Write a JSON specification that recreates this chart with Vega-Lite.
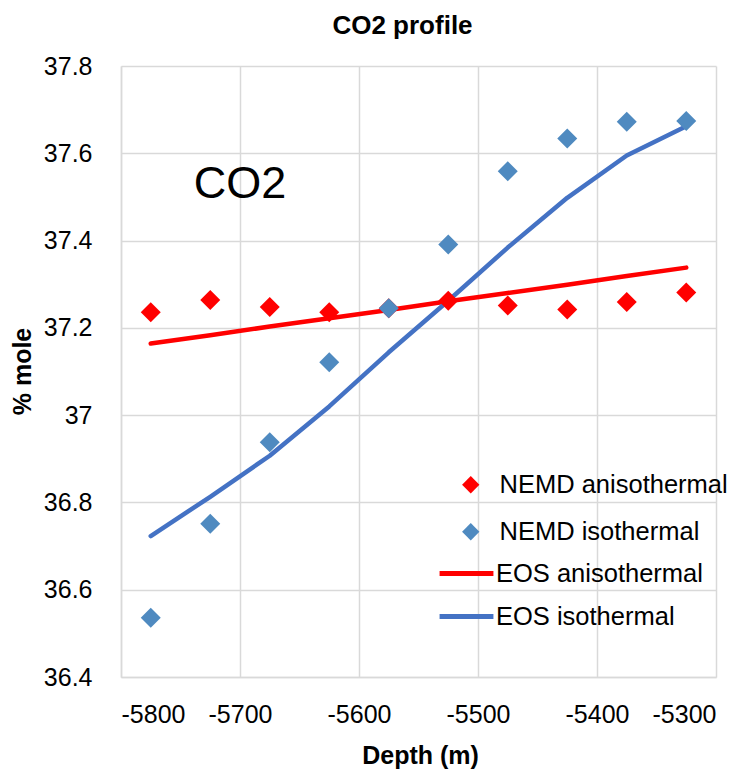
{
  "$schema": "https://vega.github.io/schema/vega-lite/v6.json",
  "width": 595,
  "height": 611,
  "autosize": {"type": "none"},
  "padding": {"left": 121, "top": 66, "right": 39, "bottom": 96},
  "background": "white",
  "title": {"text": "CO2 profile", "font": "Liberation Sans", "fontSize": 26, "fontWeight": "bold", "color": "black", "anchor": "middle", "offset": 15, "dx": -16},
  "config": {
    "view": {"stroke": null},
    "title": {"font": "Liberation Sans", "fontSize": 26, "fontWeight": "bold", "color": "black"},
    "axis": {
      "grid": true, "gridColor": "#d9d9d9", "gridWidth": 1.5,
      "domainColor": "#d9d9d9", "domainWidth": 1.5, "ticks": false,
      "labelFont": "Liberation Sans", "labelFontSize": 25, "labelColor": "black",
      "titleFont": "Liberation Sans", "titleFontSize": 25, "titleFontWeight": "bold", "titleColor": "black"
    }
  },
  "datasets": {
    "pts": [
      {"depth": -5775, "value": 37.236, "series": "NEMD anisothermal"},
      {"depth": -5725, "value": 37.264, "series": "NEMD anisothermal"},
      {"depth": -5675, "value": 37.248, "series": "NEMD anisothermal"},
      {"depth": -5625, "value": 37.236, "series": "NEMD anisothermal"},
      {"depth": -5575, "value": 37.245, "series": "NEMD anisothermal"},
      {"depth": -5525, "value": 37.262, "series": "NEMD anisothermal"},
      {"depth": -5475, "value": 37.251, "series": "NEMD anisothermal"},
      {"depth": -5425, "value": 37.242, "series": "NEMD anisothermal"},
      {"depth": -5375, "value": 37.259, "series": "NEMD anisothermal"},
      {"depth": -5325, "value": 37.281, "series": "NEMD anisothermal"},
      {"depth": -5775, "value": 36.536, "series": "NEMD isothermal"},
      {"depth": -5725, "value": 36.751, "series": "NEMD isothermal"},
      {"depth": -5675, "value": 36.938, "series": "NEMD isothermal"},
      {"depth": -5625, "value": 37.121, "series": "NEMD isothermal"},
      {"depth": -5575, "value": 37.245, "series": "NEMD isothermal"},
      {"depth": -5525, "value": 37.391, "series": "NEMD isothermal"},
      {"depth": -5475, "value": 37.559, "series": "NEMD isothermal"},
      {"depth": -5425, "value": 37.634, "series": "NEMD isothermal"},
      {"depth": -5375, "value": 37.672, "series": "NEMD isothermal"},
      {"depth": -5325, "value": 37.674, "series": "NEMD isothermal"}
    ],
    "lines": [
      {"depth": -5775, "value": 37.164, "series": "EOS anisothermal"},
      {"depth": -5725, "value": 37.183, "series": "EOS anisothermal"},
      {"depth": -5675, "value": 37.203, "series": "EOS anisothermal"},
      {"depth": -5625, "value": 37.222, "series": "EOS anisothermal"},
      {"depth": -5575, "value": 37.241, "series": "EOS anisothermal"},
      {"depth": -5525, "value": 37.261, "series": "EOS anisothermal"},
      {"depth": -5475, "value": 37.280, "series": "EOS anisothermal"},
      {"depth": -5425, "value": 37.299, "series": "EOS anisothermal"},
      {"depth": -5375, "value": 37.319, "series": "EOS anisothermal"},
      {"depth": -5325, "value": 37.338, "series": "EOS anisothermal"},
      {"depth": -5775, "value": 36.723, "series": "EOS isothermal"},
      {"depth": -5725, "value": 36.813, "series": "EOS isothermal"},
      {"depth": -5675, "value": 36.907, "series": "EOS isothermal"},
      {"depth": -5625, "value": 37.020, "series": "EOS isothermal"},
      {"depth": -5575, "value": 37.144, "series": "EOS isothermal"},
      {"depth": -5525, "value": 37.262, "series": "EOS isothermal"},
      {"depth": -5475, "value": 37.384, "series": "EOS isothermal"},
      {"depth": -5425, "value": 37.498, "series": "EOS isothermal"},
      {"depth": -5375, "value": 37.595, "series": "EOS isothermal"},
      {"depth": -5325, "value": 37.662, "series": "EOS isothermal"}
    ]
  },
  "layer": [
    {
      "data": {"name": "lines"},
      "mark": {"type": "line", "strokeWidth": 4.5, "strokeCap": "round", "strokeJoin": "round"},
      "encoding": {
        "x": {"field": "depth", "type": "quantitative", "scale": {"domain": [-5800, -5300], "nice": false, "zero": false},
          "axis": {"title": "Depth (m)", "values": [-5800, -5700, -5600, -5500, -5400, -5300], "labelExpr": "'' + datum.value", "labelPadding": 25, "titleX": 299, "titleY": 78, "titleBaseline": "middle", "titleAlign": "center"}},
        "y": {"field": "value", "type": "quantitative", "scale": {"domain": [36.4, 37.8], "nice": false, "zero": false},
          "axis": {"title": "% mole", "values": [36.4, 36.6, 36.8, 37, 37.2, 37.4, 37.6, 37.8], "labelExpr": "'' + datum.value", "labelPadding": 29, "titleAngle": -90, "titleX": -99, "titleY": 305, "titleAlign": "center", "titleBaseline": "middle"}},
        "stroke": {"field": "series", "type": "nominal",
          "scale": {"domain": ["EOS anisothermal", "EOS isothermal"], "range": ["#FF0000", "#4472C4"]},
          "legend": {"orient": "none", "legendX": 316, "legendY": 478, "title": null, "symbolType": "stroke", "symbolSize": 2900, "symbolStrokeWidth": 5, "labelFont": "Liberation Sans", "labelFontSize": 25.5, "labelColor": "black", "labelOffset": 0, "labelLimit": 400, "rowPadding": -3}}
      }
    },
    {
      "data": {"name": "pts"},
      "mark": {"type": "point", "shape": "diamond", "filled": true, "size": 400, "opacity": 1},
      "encoding": {
        "x": {"field": "depth", "type": "quantitative"},
        "y": {"field": "value", "type": "quantitative"},
        "fill": {"field": "series", "type": "nominal",
          "scale": {"domain": ["NEMD anisothermal", "NEMD isothermal"], "range": ["#FF0000", "#4F8AC0"]},
          "legend": {"orient": "none", "legendX": 337, "legendY": 406, "title": null, "symbolType": "diamond", "symbolSize": 300, "symbolStrokeWidth": 0, "labelFont": "Liberation Sans", "labelFontSize": 25.5, "labelColor": "black", "labelOffset": 16, "labelLimit": 400, "rowPadding": 20}}
      }
    },
    {
      "data": {"values": [{"label": "CO2"}]},
      "mark": {"type": "text", "font": "Liberation Sans", "fontSize": 45, "color": "black", "align": "center", "baseline": "middle"},
      "encoding": {
        "x": {"datum": -5700, "type": "quantitative"},
        "y": {"datum": 37.53, "type": "quantitative"},
        "text": {"field": "label"}
      }
    }
  ]
}
